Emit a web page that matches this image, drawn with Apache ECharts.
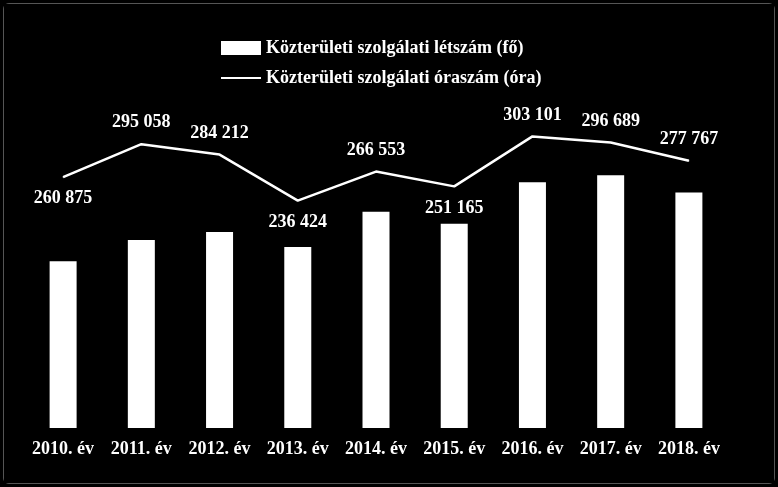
<!DOCTYPE html>
<html>
<head>
<meta charset="UTF-8">
<script src="https://cdn.jsdelivr.net/npm/echarts@6/dist/echarts.min.js"></script>
<style>
html,body{margin:0;padding:0;background:#000;}
#main{width:770px;height:479px;margin:3px;border:1px solid #555;border-radius:6px;background:#000;}
</style>
</head>
<body>
<div id="main"></div>
<script>
var years = ['2010. év','2011. év','2012. év','2013. év','2014. év','2015. év','2016. év','2017. év','2018. év'];
// bar heights (no axis shown in reference, relative values)
var letszam = [165, 186, 194, 179, 214, 202, 243, 250, 233];
var oraszam = [260875, 295058, 284212, 236424, 266553, 251165, 303101, 296689, 277767];
var labelPos = ['bottom','top','top','bottom','top','bottom','top','top','top'];

var font = '"Liberation Serif", "DejaVu Serif", serif';
var myChart = echarts.init(document.getElementById('main'));
myChart.setOption({
    backgroundColor: '#000',
    legend: {
        orient: 'vertical',
        left: 212,
        top: 30,
        itemGap: 12,
        itemWidth: 40,
        itemHeight: 14,
        textStyle: {color: '#fff', fontFamily: font, fontWeight: 'bold', fontSize: 18},
        data: [
            {name: 'Közterületi szolgálati létszám (fő)', icon: 'rect'},
            {name: 'Közterületi szolgálati óraszám (óra)', icon: 'path://M0,0H40V2H0Z'}
        ]
    },
    grid: {left: 20, right: 46, top: 52, bottom: 55},
    xAxis: {
        type: 'category',
        data: years,
        axisLine: {show: false},
        axisTick: {show: false},
        axisLabel: {color: '#fff', fontFamily: font, fontWeight: 'bold', fontSize: 18, margin: 12, interval: 0}
    },
    yAxis: [
        {type: 'value', min: 0, max: 368, show: false, splitLine: {show: false}},
        {type: 'value', min: 0, max: 386700, show: false, splitLine: {show: false}}
    ],
    series: [
        {
            name: 'Közterületi szolgálati létszám (fő)',
            type: 'bar',
            data: letszam,
            barWidth: 27,
            itemStyle: {color: '#fff'}
        },
        {
            name: 'Közterületi szolgálati óraszám (óra)',
            type: 'line',
            yAxisIndex: 1,
            data: oraszam.map(function (v, i) {
                return {value: v, label: {position: labelPos[i]}};
            }),
            symbol: 'circle',
            symbolSize: 1,
            showSymbol: true,
            lineStyle: {color: '#fff', width: 2.5},
            itemStyle: {color: '#fff'},
            label: {
                show: true,
                distance: 12,
                color: '#fff',
                fontFamily: font,
                fontWeight: 'bold',
                fontSize: 18,
                formatter: function (p) {
                    return String(p.value).replace(/\B(?=(\d{3})+(?!\d))/g, ' ');
                }
            }
        }
    ]
});
</script>
</body>
</html>
